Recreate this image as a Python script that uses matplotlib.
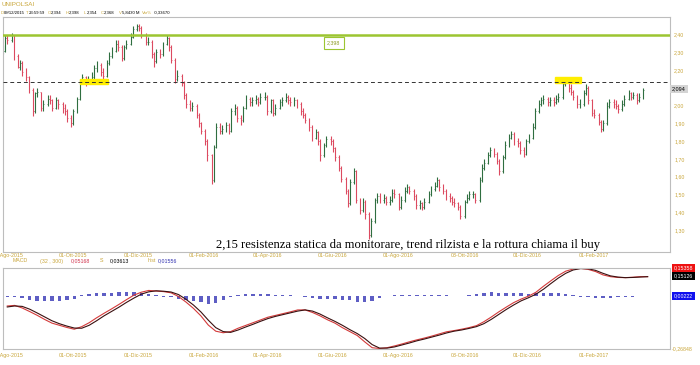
import numpy as np
import pandas as pd
import matplotlib
matplotlib.use('Agg')
import matplotlib.pyplot as plt
import matplotlib.dates as mdates
from matplotlib.patches import Rectangle
from matplotlib.ticker import FuncFormatter

plt.rcParams['font.family'] = ['Liberation Sans', 'DejaVu Sans']

# barre, una ogni 2 sedute (dal 27/07/2015)
chiusure = [2.31, 2.38, 2.37, 2.40, 2.28, 2.22, 2.24, 2.19, 2.16, 2.09,
            1.97, 2.07, 2.08, 1.99, 2.01, 2.04, 2.03, 1.99, 2.03, 2.01,
            1.99, 1.97, 1.93, 1.90, 1.97, 2.04, 2.14, 2.16, 2.13, 2.15,
            2.16, 2.21, 2.23, 2.19, 2.17, 2.24, 2.28, 2.31, 2.35, 2.33,
            2.27, 2.33, 2.35, 2.39, 2.43, 2.45, 2.44, 2.40, 2.36, 2.36,
            2.29, 2.25, 2.30, 2.29, 2.35, 2.38, 2.33, 2.26, 2.15, 2.17,
            2.13, 2.06, 2.01, 1.99, 2.00, 1.95, 1.90, 1.86, 1.80, 1.72,
            1.58, 1.77, 1.88, 1.86, 1.87, 1.89, 1.86, 1.97, 1.99, 1.93,
            1.92, 1.99, 2.04, 2.02, 2.03, 2.04, 2.02, 2.05, 2.05, 1.97,
            2.03, 1.96, 1.99, 2.02, 2.03, 2.05, 2.03, 2.02, 2.03, 2.01,
            1.97, 1.95, 1.92, 1.88, 1.82, 1.85, 1.80, 1.72, 1.78, 1.81,
            1.80, 1.76, 1.71, 1.65, 1.59, 1.52, 1.45, 1.57, 1.63, 1.47,
            1.41, 1.46, 1.39, 1.27, 1.35, 1.47, 1.49, 1.47, 1.48, 1.46,
            1.47, 1.51, 1.50, 1.43, 1.47, 1.52, 1.54, 1.52, 1.49, 1.44,
            1.45, 1.43, 1.46, 1.50, 1.53, 1.55, 1.58, 1.54, 1.52, 1.49,
            1.48, 1.46, 1.45, 1.43, 1.38, 1.46, 1.48, 1.50, 1.50, 1.47,
            1.58, 1.65, 1.68, 1.72, 1.75, 1.73, 1.69, 1.63, 1.71, 1.78,
            1.82, 1.84, 1.80, 1.79, 1.75, 1.73, 1.80, 1.82, 1.88, 1.97,
            2.01, 2.03, 2.04, 2.02, 2.03, 2.02, 2.04, 2.05, 2.12, 2.14,
            2.10, 2.08, 2.05, 2.01, 2.01, 2.07, 2.10, 2.03, 1.96, 1.95,
            1.91, 1.87, 1.90, 2.00, 2.02, 2.01, 2.00, 1.98, 2.01, 2.04,
            2.07, 2.05, 2.06, 2.03, 2.05, 2.09]
massimi = [2.34, 2.40, 2.40, 2.41, 2.40, 2.29, 2.26, 2.25, 2.21, 2.17,
           2.10, 2.08, 2.10, 2.08, 2.03, 2.06, 2.06, 2.04, 2.05, 2.04,
           2.02, 2.01, 1.98, 1.95, 1.98, 2.05, 2.15, 2.18, 2.17, 2.17,
           2.19, 2.23, 2.25, 2.24, 2.21, 2.26, 2.30, 2.33, 2.37, 2.37,
           2.34, 2.34, 2.37, 2.41, 2.45, 2.46, 2.46, 2.45, 2.41, 2.39,
           2.37, 2.30, 2.32, 2.32, 2.36, 2.40, 2.39, 2.34, 2.27, 2.20,
           2.18, 2.14, 2.07, 2.03, 2.02, 2.01, 1.96, 1.91, 1.87, 1.81,
           1.73, 1.78, 1.90, 1.90, 1.89, 1.91, 1.90, 1.99, 2.01, 2.00,
           1.95, 2.00, 2.06, 2.05, 2.05, 2.06, 2.05, 2.07, 2.08, 2.06,
           2.04, 2.04, 2.01, 2.04, 2.05, 2.07, 2.06, 2.05, 2.05, 2.04,
           2.02, 1.99, 1.96, 1.93, 1.89, 1.87, 1.86, 1.81, 1.79, 1.83,
           1.83, 1.81, 1.77, 1.72, 1.66, 1.60, 1.53, 1.59, 1.65, 1.64,
           1.48, 1.48, 1.47, 1.40, 1.37, 1.48, 1.51, 1.51, 1.50, 1.49,
           1.49, 1.53, 1.53, 1.51, 1.49, 1.54, 1.56, 1.55, 1.53, 1.50,
           1.47, 1.46, 1.48, 1.52, 1.55, 1.57, 1.60, 1.59, 1.56, 1.53,
           1.51, 1.49, 1.48, 1.46, 1.44, 1.47, 1.50, 1.52, 1.52, 1.51,
           1.60, 1.67, 1.70, 1.74, 1.77, 1.76, 1.74, 1.70, 1.72, 1.80,
           1.84, 1.86, 1.85, 1.82, 1.80, 1.77, 1.81, 1.84, 1.90, 1.99,
           2.03, 2.05, 2.06, 2.05, 2.05, 2.05, 2.06, 2.07, 2.13, 2.15,
           2.15, 2.12, 2.09, 2.06, 2.04, 2.09, 2.12, 2.11, 2.04, 1.98,
           1.96, 1.92, 1.92, 2.02, 2.04, 2.04, 2.03, 2.01, 2.03, 2.06,
           2.09, 2.08, 2.08, 2.07, 2.07, 2.10]
minimi = [2.29, 2.30, 2.35, 2.36, 2.26, 2.21, 2.20, 2.17, 2.14, 2.07,
          1.94, 1.96, 2.05, 1.97, 1.97, 2.00, 2.01, 1.97, 1.98, 1.98,
          1.96, 1.95, 1.91, 1.88, 1.89, 1.96, 2.03, 2.12, 2.11, 2.12,
          2.13, 2.15, 2.19, 2.17, 2.15, 2.16, 2.23, 2.27, 2.30, 2.31,
          2.25, 2.26, 2.32, 2.34, 2.38, 2.42, 2.42, 2.38, 2.34, 2.34,
          2.27, 2.22, 2.24, 2.27, 2.28, 2.34, 2.31, 2.24, 2.13, 2.14,
          2.11, 2.04, 1.99, 1.97, 1.97, 1.93, 1.88, 1.84, 1.78, 1.69,
          1.56, 1.57, 1.76, 1.84, 1.84, 1.85, 1.84, 1.85, 1.95, 1.91,
          1.89, 1.91, 1.98, 2.00, 2.00, 2.01, 2.00, 2.01, 2.03, 1.95,
          1.96, 1.94, 1.95, 1.98, 2.00, 2.02, 2.01, 2.00, 2.00, 1.99,
          1.95, 1.93, 1.90, 1.86, 1.80, 1.81, 1.78, 1.69, 1.71, 1.77,
          1.78, 1.74, 1.69, 1.63, 1.57, 1.50, 1.43, 1.44, 1.56, 1.45,
          1.39, 1.40, 1.36, 1.25, 1.26, 1.34, 1.45, 1.45, 1.45, 1.44,
          1.44, 1.46, 1.48, 1.41, 1.42, 1.46, 1.51, 1.50, 1.47, 1.42,
          1.42, 1.41, 1.42, 1.45, 1.49, 1.52, 1.54, 1.52, 1.50, 1.47,
          1.46, 1.44, 1.43, 1.41, 1.36, 1.37, 1.45, 1.47, 1.48, 1.45,
          1.46, 1.57, 1.64, 1.67, 1.71, 1.71, 1.67, 1.61, 1.62, 1.70,
          1.77, 1.81, 1.78, 1.77, 1.73, 1.71, 1.72, 1.79, 1.81, 1.87,
          1.96, 2.00, 2.01, 2.00, 2.00, 2.00, 2.01, 2.02, 2.04, 2.11,
          2.08, 2.06, 2.03, 1.99, 1.99, 2.00, 2.06, 2.01, 1.94, 1.93,
          1.89, 1.85, 1.86, 1.89, 1.99, 1.99, 1.98, 1.96, 1.97, 2.00,
          2.03, 2.03, 2.04, 2.01, 2.02, 2.04]

# MACD settimanale (venerdi, dal 31/07/2015)
macd = [-0.050, -0.047, -0.060, -0.078, -0.097, -0.118, -0.137, -0.148, -0.159, -0.168,
        -0.155, -0.135, -0.110, -0.087, -0.065, -0.042, -0.018, 0.005, 0.020, 0.029,
        0.026, 0.023, 0.017, -0.002, -0.030, -0.062, -0.100, -0.147, -0.178, -0.186,
        -0.180, -0.163, -0.149, -0.135, -0.121, -0.107, -0.098, -0.089, -0.080, -0.070,
        -0.070, -0.083, -0.100, -0.120, -0.137, -0.160, -0.180, -0.200, -0.232, -0.262,
        -0.266, -0.262, -0.253, -0.243, -0.232, -0.222, -0.213, -0.203, -0.192, -0.181,
        -0.175, -0.168, -0.160, -0.150, -0.130, -0.106, -0.080, -0.056, -0.033, -0.015,
        0.000, 0.020, 0.050, 0.078, 0.105, 0.127, 0.138, 0.141, 0.136, 0.125,
        0.108, 0.099, 0.095, 0.094, 0.096, 0.099, 0.099]
segnale = [-0.055, -0.050, -0.052, -0.066, -0.085, -0.105, -0.125, -0.140, -0.152, -0.162,
           -0.163, -0.148, -0.125, -0.100, -0.078, -0.056, -0.032, -0.010, 0.010, 0.022,
           0.027, 0.025, 0.021, 0.008, -0.016, -0.045, -0.080, -0.122, -0.160, -0.180,
           -0.184, -0.172, -0.157, -0.143, -0.128, -0.114, -0.103, -0.094, -0.085, -0.076,
           -0.070, -0.076, -0.091, -0.110, -0.128, -0.148, -0.170, -0.190, -0.215, -0.246,
           -0.264, -0.264, -0.258, -0.248, -0.238, -0.227, -0.218, -0.208, -0.198, -0.187,
           -0.178, -0.172, -0.164, -0.155, -0.140, -0.118, -0.093, -0.068, -0.045, -0.024,
           -0.008, 0.010, 0.035, 0.064, 0.092, 0.116, 0.133, 0.140, 0.139, 0.131,
           0.116, 0.103, 0.097, 0.094, 0.095, 0.097, 0.099]
istogramma = [-0.003, -0.006, -0.010, -0.018, -0.024, -0.026, -0.026, -0.025, -0.022, -0.012,
              0.004, 0.012, 0.015, 0.017, 0.018, 0.019, 0.020, 0.019, 0.017, 0.012,
              0.004, -0.003, -0.006, -0.012, -0.020, -0.026, -0.032, -0.040, -0.036, -0.018,
              -0.004, 0.006, 0.010, 0.011, 0.010, 0.009, 0.008, 0.007, 0.006, 0.003,
              -0.003, -0.008, -0.012, -0.015, -0.016, -0.018, -0.022, -0.028, -0.030, -0.024,
              -0.008, 0.002, 0.004, 0.006, 0.007, 0.006, 0.005, 0.006, 0.007, 0.005,
              0.002, 0.001, 0.006, 0.012, 0.017, 0.019, 0.016, 0.014, 0.015, 0.014,
              0.013, 0.016, 0.018, 0.017, 0.015, 0.012, 0.006, -0.002, -0.006, -0.010,
              -0.011, -0.008, -0.005, -0.003, -0.002, -0.001, 0.000]

date_tick = ['2015-08-01', '2015-10-01', '2015-12-01', '2016-02-01', '2016-04-01',
             '2016-06-01', '2016-08-01', '2016-10-03', '2016-12-01', '2017-02-01']
etichette_tick = ['01-Ago-2015', '01-Ott-2015', '01-Dic-2015', '01-Feb-2016', '01-Apr-2016',
                  '01-Giu-2016', '01-Ago-2016', '03-Ott-2016', '01-Dic-2016', '01-Feb-2017']
tick_prezzo = [1.30, 1.40, 1.50, 1.60, 1.70, 1.80, 1.90, 2.00, 2.20, 2.30, 2.40]

livello_verde = 2.40
resistenza = 2.135
ultimo = 2.094

testata = [(1, 'D', 'g'), (3.5, '09/12/2015', 'k'), (26, 'T', 'g'), (28.5, '23:59:59', 'k'),
           (48, 'O', 'g'), (51, '2,394', 'k'), (66, 'H', 'g'), (69, '2,398', 'k'),
           (84, 'L', 'g'), (87, '2,354', 'k'), (101, 'C', 'g'), (104, '2,368', 'k'),
           (119, 'V', 'g'), (122, '5,8430 M', 'k'), (142, 'Var%', 'g'), (154, '-0,33670', 'k')]

oro = '#c9a63a'
bordo = '#bdbdbd'
su = '#2f6e40'
giu = '#dc4a60'

W, H = 700, 365
def px(x, y):
    return x / W, 1 - y / H

giorni = mdates.date2num(pd.bdate_range('2015-07-27', periods=len(chiusure), freq='2B'))
settimane = pd.date_range('2015-07-31', periods=len(macd), freq='7D')
chiusure = np.array(chiusure)
aperture = np.r_[chiusure[0], chiusure[:-1]]

fig = plt.figure(figsize=(7, 3.65), dpi=100)
ax = fig.add_axes([3 / W, 1 - 252 / H, 667 / W, 235 / H])
ax2 = fig.add_axes([3 / W, 1 - 349 / H, 667 / W, 81 / H])

xmin, xmax = mdates.datestr2num('2015-07-27'), mdates.datestr2num('2017-04-14')
xt = mdates.datestr2num(date_tick)
for a in (ax, ax2):
    a.set_xlim(xmin, xmax)
    for s in a.spines.values():
        s.set_color(bordo)
        s.set_linewidth(0.8)
    a.set_xticks(xt)
    a.set_xticklabels(etichette_tick)
    a.tick_params(axis='x', length=0, labelsize=3.8, labelcolor=oro)

# barre OHLC
colori = np.where(chiusure >= aperture, su, giu)
ax.vlines(giorni, minimi, massimi, colors=colori, linewidth=0.8)
ax.hlines(aperture, giorni - 0.8, giorni, colors=colori, linewidth=0.5)
ax.hlines(chiusure, giorni, giorni + 0.8, colors=colori, linewidth=0.5)
ax.set_ylim(1.176, 2.50)
ax.yaxis.tick_right()
ax.set_yticks(tick_prezzo)
ax.yaxis.set_major_formatter(FuncFormatter(lambda v, p: f'{v:.2f}'.replace('.', ',')))
ax.tick_params(axis='y', length=0, labelsize=3.8, labelcolor=oro, pad=3)
ax.tick_params(axis='x', pad=1)

ax.axhline(livello_verde, color='#9cc531', linewidth=1.8, zorder=3)
ax.axhline(resistenza, color='#333333', linewidth=0.7, linestyle=(0, (4, 3)), zorder=3)

ax.add_patch(Rectangle((mdates.datestr2num('2015-10-07'), 2.123), 27, 0.03,
                       color='#ffee00', zorder=2))
ax.add_patch(Rectangle((mdates.datestr2num('2016-12-27'), 2.130), 24, 0.034,
                       color='#ffee00', zorder=2))

ax.text(mdates.datestr2num('2016-06-02'), 2.353, '2,398', fontsize=3.8, color='#8a9a20',
        ha='center', va='center',
        bbox=dict(boxstyle='square,pad=0.6', fc='white', ec='#9cc531', lw=0.8))

ax.text(1.003, ultimo, f'{ultimo:.3f}'.replace('.', ','), transform=ax.get_yaxis_transform(),
        fontsize=4, color='black', ha='left', va='center',
        bbox=dict(boxstyle='square,pad=0.3', fc='#d4d4d4', ec='none'))

ax.text(mdates.datestr2num('2016-08-11'), 1.213,
        '2,15 resistenza statica da monitorare, trend rilzista e la rottura chiama il buy',
        family='Liberation Serif', fontsize=9.1, ha='center', va='center')

# MACD
larg = 3.2
ax2.bar(settimane, istogramma, width=larg, color='#5e5ec4', linewidth=0)
ax2.plot(settimane, macd, color='#d43a3a', linewidth=0.8)
ax2.plot(settimane, segnale, color='#3a1010', linewidth=0.8)
ax2.set_ylim(-0.2685, 0.143)
ax2.set_yticks([])
ax2.tick_params(axis='x', pad=3)

# testi
fig.text(*px(2, 5), 'UNIPOLSAI', fontsize=4.5, color=oro, va='center')
for x, t, c in testata:
    fig.text(*px(x, 13), t, fontsize=3.1, color=oro if c == 'g' else 'black', va='center')

fig.text(*px(13, 261), 'MACD', fontsize=3.8, color=oro, va='center')
fig.text(*px(40, 261), '(32 , 300)', fontsize=3.8, color=oro, va='center')
fig.text(*px(71, 261), '0,05168', fontsize=3.8, color='#d0304a', va='center')
fig.text(*px(100, 261), 'S', fontsize=3.8, color=oro, va='center')
fig.text(*px(110, 261), '0,03613', fontsize=3.8, color='black', va='center')
fig.text(*px(148, 261), 'hist', fontsize=3.8, color=oro, va='center')
fig.text(*px(158, 261), '0,01556', fontsize=3.8, color='#3030b0', va='center')

for y, t, fc in [(268, '0,15358', '#ee1111'), (276, '0,15126', 'black'), (296, '0,00222', '#1010ee')]:
    fig.text(*px(674, y), t, fontsize=3.8, color='white', va='center',
             bbox=dict(boxstyle='square,pad=0.35', fc=fc, ec='none'))
fig.text(*px(672, 349), '-0,26848', fontsize=3.8, color=oro, va='center')

fig.savefig('out.png', dpi=100)
